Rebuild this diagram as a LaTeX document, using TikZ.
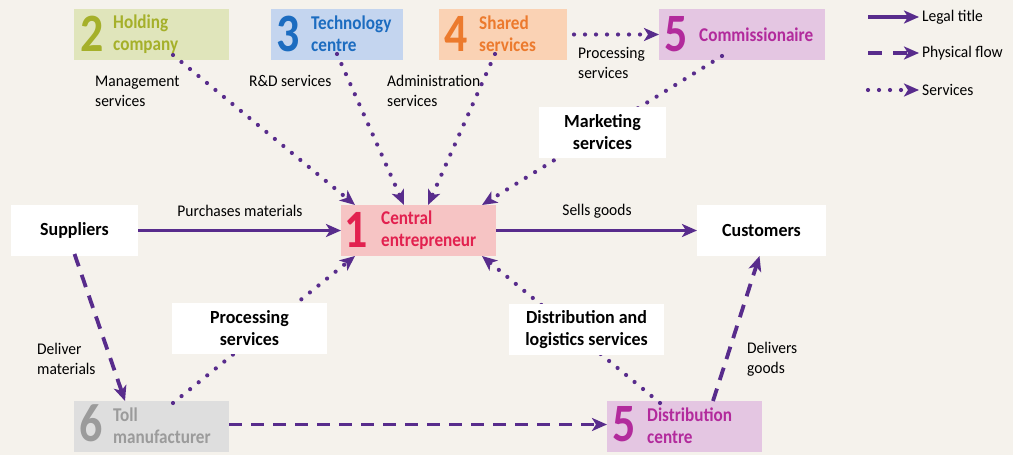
\documentclass[tikz,border=0pt]{standalone}
\usepackage{fontspec}
\setmainfont[FakeStretch=0.95]{Carlito}
\newfontfamily\numf[FakeStretch=0.85]{Carlito}
\newfontfamily\boxf[FakeStretch=0.88]{Carlito}
\newfontfamily\wboxf[FakeStretch=0.97]{Carlito}
\usetikzlibrary{arrows.meta}
\definecolor{bg}{RGB}{245,242,236}
\definecolor{flow}{RGB}{88,44,140}
\definecolor{grfill}{RGB}{224,229,187}
\definecolor{grtext}{RGB}{165,176,42}
\definecolor{blfill}{RGB}{196,213,239}
\definecolor{bltext}{RGB}{28,108,192}
\definecolor{orfill}{RGB}{250,210,180}
\definecolor{ortext}{RGB}{236,122,45}
\definecolor{pufill}{RGB}{228,198,226}
\definecolor{putext}{RGB}{178,42,156}
\definecolor{pkfill}{RGB}{246,196,196}
\definecolor{pktext}{RGB}{226,33,79}
\definecolor{gyfill}{RGB}{222,222,222}
\definecolor{gytext}{RGB}{155,155,155}
\tikzset{
  box/.style={rectangle, minimum height=51pt, inner sep=0pt, outer sep=0pt},
  whitebox/.style={box, fill=white, font=\wboxf\fontsize{18.5}{22}\selectfont\bfseries, align=center},
  num/.style={anchor=base west, inner sep=0pt, font=\numf\fontsize{54}{54}\selectfont\bfseries},
  btext/.style={anchor=west, inner sep=0pt, align=left, font=\boxf\fontsize{19.5}{22}\selectfont\bfseries},
  lbl/.style={inner sep=0pt, align=left, font=\fontsize{16.3}{20}\selectfont},
  tip/.style={-{Stealth[length=15pt,width=13pt,inset=4pt]}},
  legal/.style={tip, draw=flow, line width=3.8pt},
  phys/.style={tip, draw=flow, line width=3.8pt, dash pattern=on 13pt off 9pt},
  serv/.style={tip, draw=flow, line width=4.2pt, line cap=round, dash pattern=on 0pt off 11pt},
}
\begin{document}
\begin{tikzpicture}[x=1pt,y=-1pt]
\useasboundingbox[fill=bg] (0,0) rectangle (1013,455);

% coloured boxes
\node[box, fill=grfill, minimum width=155pt] (hold) at (151.5,34.5) {};
\node[num, text=grtext] (n2) at (80,51) {2};
\node[btext, text=grtext] (t2h) at (113,34) {Holding\\company};

\node[box, fill=blfill, minimum width=132pt] (tech) at (337,34.5) {};
\node[num, text=bltext] (n3) at (276,51) {3};
\node[btext, text=bltext] (t3t) at (311,34) {Technology\\centre};

\node[box, fill=orfill, minimum width=128pt] (shared) at (503,34.5) {};
\node[num, text=ortext] (n4) at (444,51) {4};
\node[btext, text=ortext] (t4s) at (479,34) {Shared\\services};

\node[box, fill=pufill, minimum width=166pt] (comm) at (742,34.5) {};
\node[num, text=putext] (n5a) at (664,51) {5};
\node[btext, text=putext] (t5c) at (699,35) {Commissionaire};

\node[box, fill=pkfill, minimum width=155pt] (central) at (418.5,230.5) {};
\node[num, text=pktext] (n1) at (344,247) {1};
\node[btext, text=pktext] (t1c) at (381,230) {Central\\entrepreneur};

\node[box, fill=gyfill, minimum width=155pt] (toll) at (151.5,426.5) {};
\node[num, text=gytext] (n6) at (79,441) {6};
\node[btext, text=gytext] (t6t) at (113,426) {Toll\\manufacturer};

\node[box, fill=pufill, minimum width=155pt] (distc) at (684.5,426.5) {};
\node[num, text=putext] (n5b) at (612,441) {5};
\node[btext, text=putext] (t5d) at (647,426) {Distribution\\centre};

\node[whitebox, minimum width=127pt] (sup) at (74.5,230.5) {Suppliers};
\node[whitebox, minimum width=129pt] (cust) at (761.5,230.5) {Customers};

% connectors behind white service boxes
\draw[serv] ([xshift=-20pt,yshift=4pt]comm.south) -- ([xshift=-14pt]central.north east);
\draw[serv] ([xshift=99pt,yshift=-2pt]toll.north west) -- ([xshift=14pt]central.south west);
\draw[serv] ([xshift=53pt,yshift=-2pt]distc.north west) -- ([xshift=-14pt]central.south east);

\node[whitebox, minimum width=127pt] (mkt) at (602.5,132.5) {Marketing\\services};
\node[whitebox, minimum width=155pt] (proc) at (249.5,328.5) {Processing\\services};
\node[whitebox, minimum width=155pt] (dist) at (586.5,329.5) {Distribution and\\logistics services};

% services
\draw[serv] ([xshift=99pt,yshift=5pt]hold.south west) -- ([xshift=14pt]central.north west);
\draw[serv] ([yshift=6pt]tech.south) -- ([xshift=63pt]central.north west);
\draw[serv] ([xshift=-8pt,yshift=6pt]shared.south) -- ([xshift=87pt]central.north west);
\draw[serv] ([xshift=7pt]shared.east) -- (comm.west);

% legal title
\draw[legal] (sup) -- (central);
\draw[legal] (central) -- (cust);

% physical flow
\draw[phys] ([yshift=2pt]sup.south) -- ([xshift=51pt]toll.north west);
\draw[phys] ([yshift=2pt]toll.east) -- ([yshift=2pt]distc.west);
\draw[phys] ([xshift=106pt]distc.north west) -- ([xshift=-2pt]cust.south);

% labels
\node[lbl] (lpm) at (240,211) {Purchases materials};
\node[lbl] (lsg) at (597,211) {Sells goods};
\node[lbl, anchor=west] (lms) at (95,91) {Management\\services};
\node[lbl, anchor=west] (lrd) at (249,81) {R\&D services};
\node[lbl, anchor=west] (las) at (387,91) {Administration\\services};
\node[lbl, anchor=west] (lps) at (578,63) {Processing\\services};
\node[lbl, anchor=west] (ldm) at (37,359) {Deliver\\materials};
\node[lbl, anchor=west] (ldg) at (747,359) {Delivers\\goods};

% legend
\coordinate (l1a) at (868,17); \coordinate (l1b) at (919,17);
\coordinate (l2a) at (868,53); \coordinate (l2b) at (919,53);
\coordinate (l3a) at (868,90); \coordinate (l3b) at (919,90);
\draw[legal] (l1a) -- (l1b);
\draw[phys, dash pattern=on 14pt off 11pt] (l2a) -- (l2b);
\draw[serv] (l3a) -- (l3b);
\node[lbl, anchor=west] (t1) at (922,17) {Legal title};
\node[lbl, anchor=west] (t2) at (922,53) {Physical flow};
\node[lbl, anchor=west] (t3) at (922,90) {Services};
\end{tikzpicture}
\end{document}
